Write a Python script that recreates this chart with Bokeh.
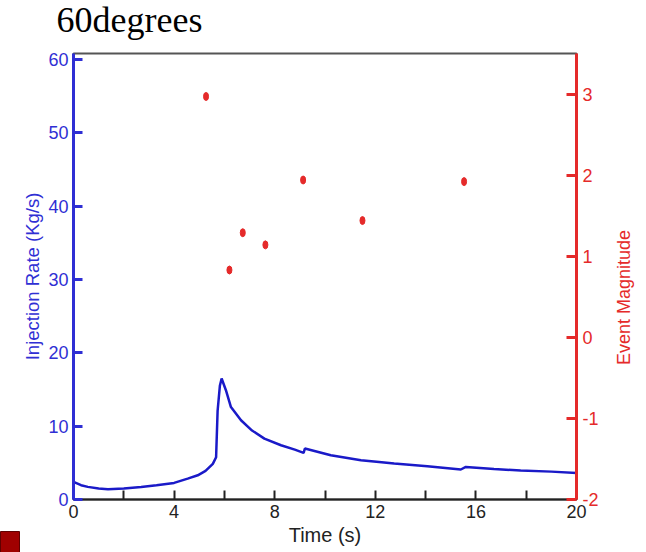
import math
from bokeh.plotting import figure
from bokeh.models import Range1d, LinearAxis, FixedTicker, Label
from bokeh.embed import file_html
from bokeh.resources import INLINE

# Injection rate curve (Kg/s) vs time (s)
time = [0.0, 0.3, 0.57, 1.0, 1.37, 2.0, 2.69, 3.3, 4.0, 4.54, 4.94, 5.25, 5.54,
        5.67, 5.73, 5.82, 5.89, 6.06, 6.26, 6.66, 7.1, 7.59, 8.25, 8.8, 9.15,
        9.2, 10.23, 11.43, 12.15, 12.75, 14.07, 15.4, 15.6, 16.72, 17.78, 19.0, 20.0]
rate = [2.4, 1.95, 1.72, 1.5, 1.4, 1.5, 1.72, 1.95, 2.26, 2.85, 3.3, 3.9, 4.86,
        5.76, 12.1, 15.5, 16.5, 14.9, 12.6, 10.8, 9.4, 8.3, 7.4, 6.8, 6.35,
        6.95, 6.03, 5.36, 5.12, 4.9, 4.54, 4.09, 4.44, 4.17, 3.95, 3.8, 3.6]

# Seismic events
event_time = [5.27, 6.20, 6.73, 7.63, 9.13, 11.49, 15.53]
event_mag = [2.97, 0.83, 1.29, 1.14, 1.94, 1.44, 1.92]

x_ticks = [0, 4, 8, 12, 16, 20]
x_minor = [2, 6, 10, 14, 18]
rate_ticks = [0, 10, 20, 30, 40, 50, 60]
mag_ticks = [-2, -1, 0, 1, 2, 3]
mag_tick_labels = ["-2", "-1", "0", "1", "2", "3"]

TITLE = "60degrees"
X_LABEL = "Time (s)"
Y_LABEL = "Injection Rate (Kg/s)"
Y2_LABEL = "Event Magnitude"

BLUE = "#2f2fd4"
LINE_BLUE = "#1a1ac8"
RED = "#e52a2a"
FONT = "Liberation Sans"

p = figure(width=646, height=552, output_backend="svg", toolbar_location=None,
           x_range=Range1d(0, 20), y_range=Range1d(0, 60.8),
           min_border_left=72, min_border_right=70, min_border_top=53,
           min_border_bottom=53, background_fill_color="white",
           border_fill_color="white")
p.title = None
p.extra_y_ranges = {"mag": Range1d(-2, 3.5)}
p.grid.visible = False
p.outline_line_color = "#555555"
p.outline_line_width = 2

# bottom axis
xa = p.xaxis[0]
xa.ticker = FixedTicker(ticks=x_ticks, minor_ticks=x_minor)
xa.axis_label = X_LABEL
xa.axis_label_text_font = FONT
xa.axis_label_text_font_size = "20px"
xa.axis_label_text_font_style = "normal"
xa.axis_label_text_color = "#222222"
xa.axis_label_standoff = 3
xa.major_label_text_font = FONT
xa.major_label_text_font_size = "18px"
xa.major_label_text_color = "#222222"
xa.major_label_standoff = 5
xa.axis_line_color = "#222222"
xa.axis_line_width = 2
xa.major_tick_in = 9
xa.major_tick_out = 0
xa.minor_tick_in = 9
xa.minor_tick_out = 0
xa.major_tick_line_width = 2
xa.minor_tick_line_width = 2
xa.major_tick_line_color = "#222222"
xa.minor_tick_line_color = "#222222"

# left axis
ya = p.yaxis[0]
ya.ticker = FixedTicker(ticks=rate_ticks)
ya.axis_label = Y_LABEL
ya.axis_label_text_font = FONT
ya.axis_label_text_font_size = "18.5px"
ya.axis_label_text_font_style = "normal"
ya.axis_label_text_color = BLUE
ya.axis_label_standoff = 2
ya.major_label_text_font = FONT
ya.major_label_text_font_size = "18px"
ya.major_label_text_color = BLUE
ya.major_label_standoff = 5
ya.axis_line_color = BLUE
ya.axis_line_width = 3
ya.major_tick_in = 9
ya.major_tick_out = 0
ya.major_tick_line_color = BLUE
ya.major_tick_line_width = 3
ya.minor_tick_line_color = None

# right axis (label drawn separately so it reads bottom-to-top)
ra = LinearAxis(y_range_name="mag", ticker=FixedTicker(ticks=mag_ticks))
ra.major_label_overrides = dict(zip(mag_ticks, mag_tick_labels))
ra.major_label_text_font = FONT
ra.major_label_text_font_size = "18px"
ra.major_label_text_color = RED
ra.major_label_standoff = 6
ra.axis_line_color = RED
ra.axis_line_width = 3
ra.major_tick_in = 10
ra.major_tick_out = 0
ra.major_tick_line_color = RED
ra.major_tick_line_width = 3
ra.minor_tick_line_color = None
p.add_layout(ra, "right")

# data
p.line(time, rate, line_color=LINE_BLUE, line_width=2.5)
p.ellipse(event_time, event_mag, width=5, height=8, width_units="screen",
          height_units="screen", fill_color=RED, line_color=RED,
          y_range_name="mag")

# side-panel annotations
p.add_layout(Label(x=-17, y=34, x_units="screen", y_units="screen",
                   text=TITLE, text_align="left", text_baseline="alphabetic",
                   text_font="Liberation Serif", text_font_size="36px",
                   text_color="black"), "above")
p.add_layout(Label(x=22, y=202, x_units="screen", y_units="screen",
                   text=Y2_LABEL, angle=math.pi / 2, text_align="center",
                   text_baseline="middle", text_font=FONT,
                   text_font_size="18px", text_color=RED), "right")
p.add_layout(Label(x=0, y=-53, x_units="screen", y_units="screen",
                   text="\u2003", text_align="left", text_baseline="bottom",
                   text_font=FONT, text_font_size="19px",
                   background_fill_color="#a00000", background_fill_alpha=1.0,
                   border_line_color="#600000", border_line_width=1), "left")

open("out.html", "w").write(file_html(p, INLINE))
